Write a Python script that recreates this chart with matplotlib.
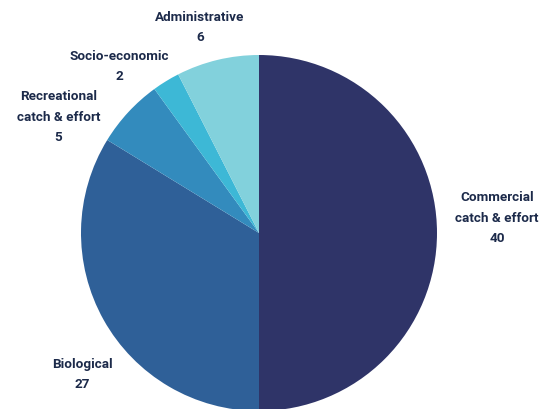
import matplotlib
matplotlib.use('Agg')
import matplotlib.pyplot as plt
import numpy as np

# Data
categories = ['Commercial\ncatch & effort', 'Biological', 'Recreational\ncatch & effort',
              'Socio-economic', 'Administrative']
values = [40, 27, 5, 2, 6]
colors = ['#2f3468', '#2f6098', '#338bbd', '#3db8d6', '#82d1dc']

# label placement (angle in degrees, distance in radii)
label_pos = [(3.6, 1.34), (218.7, 1.27), (150.0, 1.30), (130.0, 1.22), (106.0, 1.20)]

fig = plt.figure(figsize=(5.46, 4.09), dpi=100)
ax = fig.add_axes([81/546, 1 - 411/409, 356/546, 356/409])
ax.pie(values, colors=colors, startangle=90, counterclock=False,
       wedgeprops=dict(linewidth=0), radius=1)
ax.set_xlim(-1, 1)
ax.set_ylim(-1, 1)
ax.axis('off')

for cat, v, (ang, dist) in zip(categories, values, label_pos):
    x = dist*np.cos(np.radians(ang))
    y = dist*np.sin(np.radians(ang))
    ax.text(x, y, cat + '\n' + str(v), ha='center', va='center', color='#1c2a4a',
            fontsize=9.7, fontweight='bold', family='Roboto',
            linespacing=1.75, clip_on=False)

fig.savefig('out.png', dpi=100)
